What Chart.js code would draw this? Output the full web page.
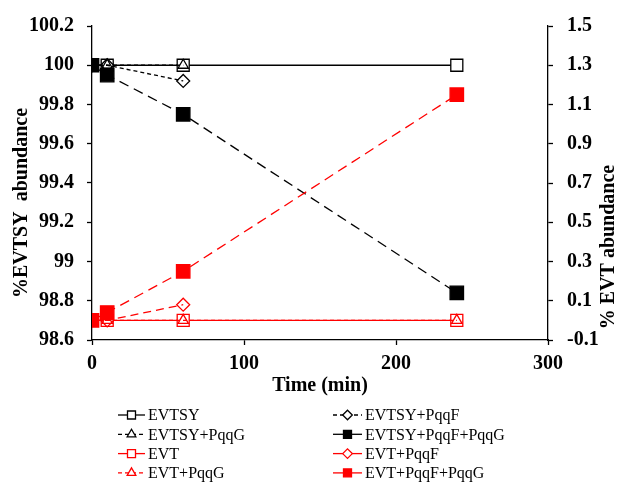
<!DOCTYPE html>
<html><head><meta charset="utf-8">
<script src="https://cdn.jsdelivr.net/npm/chart.js@4.4.1/dist/chart.umd.min.js"></script>
<style>html,body{margin:0;padding:0;background:#fff;}#wrap{width:625px;height:484px;position:relative;}</style>
</head><body><div id="wrap"><canvas id="c" width="625" height="484" style="width:625px;height:484px;"></canvas></div>
<script>
// ---- data ----
const timeMin = [0, 10, 60, 240];
const evtsy = [100, 100, 100, 100];
const evtsyPqqF = [100, 100, 99.92, null];
const evtsyPqqG = [100, 100, 100, null];
const evtsyPqqFPqqG = [100, 99.95, 99.75, 98.84];
const evt = [0, 0, 0, 0];
const evtPqqF = [0, 0, 0.08, null];
const evtPqqG = [0, 0, 0, 0];
const evtPqqFPqqG = [0, 0.04, 0.25, 1.15];
const leftTicks = [98.6, 98.8, 99, 99.2, 99.4, 99.6, 99.8, 100, 100.2];
const rightTicks = [-0.1, 0.1, 0.3, 0.5, 0.7, 0.9, 1.1, 1.3, 1.5];
const xTicks = [0, 100, 200, 300];
const legendOrder = ['EVTSY', 'EVTSY+PqqF', 'EVTSY+PqqG', 'EVTSY+PqqF+PqqG', 'EVT', 'EVT+PqqF', 'EVT+PqqG', 'EVT+PqqF+PqqG'];

const pts = arr => timeMin.map((t, i) => ({x: t, y: arr[i]}));
const RED = '#ff0000', BLK = '#000000';
const SERIF = '"Liberation Serif", "Times New Roman", serif';

function ds(label, arr, axis, color, marker, filled, dash, order, legendDash) {
  const r = marker === 'rect' ? (filled ? 9.5 : 8.5) : (marker === 'rectRot' ? 6.5 : 6);
  return {
    label, data: pts(arr), yAxisID: axis,
    borderColor: color, borderWidth: 1.3, borderDash: dash,
    pointStyle: marker, pointRadius: r, pointHoverRadius: r,
    pointBorderColor: color, pointBorderWidth: 1.3,
    pointBackgroundColor: filled ? color : (marker === 'rect' ? '#ffffff' : 'rgba(0,0,0,0)'),
    fill: false, tension: 0, order, legendDash,
    _marker: marker, _filled: filled
  };
}

const datasets = [
  ds('EVTSY', evtsy, 'y', BLK, 'rect', false, [], 8, []),
  ds('EVT', evt, 'y2', RED, 'rect', false, [], 7, []),
  ds('EVTSY+PqqG', evtsyPqqG, 'y', BLK, 'triangle', false, [4, 3], 6, [4, 3]),
  ds('EVT+PqqG', evtPqqG, 'y2', RED, 'triangle', false, [4, 3], 5, [4, 3]),
  ds('EVTSY+PqqF', evtsyPqqF, 'y', BLK, 'rectRot', false, [4, 3], 4, [4, 3]),
  ds('EVT+PqqF', evtPqqF, 'y2', RED, 'rectRot', false, [8, 5], 3, []),
  ds('EVTSY+PqqF+PqqG', evtsyPqqFPqqG, 'y', BLK, 'rect', true, [10, 6], 2, []),
  ds('EVT+PqqF+PqqG', evtPqqFPqqG, 'y2', RED, 'rect', true, [10, 6], 1, [])
];

function drawMarker(ctx, kind, filled, color, x, y, s) {
  ctx.beginPath();
  if (kind === 'rect') {
    ctx.rect(x - s, y - s, 2 * s, 2 * s);
  } else if (kind === 'rectRot') {
    const d = s * 1.2;
    ctx.moveTo(x - d, y); ctx.lineTo(x, y - d); ctx.lineTo(x + d, y); ctx.lineTo(x, y + d); ctx.closePath();
  } else {
    const d = s * 1.25;
    ctx.moveTo(x, y - d); ctx.lineTo(x + d * 0.866, y + d * 0.5); ctx.lineTo(x - d * 0.866, y + d * 0.5); ctx.closePath();
  }
  ctx.fillStyle = filled ? color : '#ffffff';
  ctx.fill();
  ctx.strokeStyle = color; ctx.lineWidth = 1.3; ctx.setLineDash([]);
  ctx.stroke();
}

const decor = {
  id: 'decor',
  afterDraw(chart) {
    const ctx = chart.ctx, ca = chart.chartArea;
    ctx.save();
    ctx.fillStyle = '#000';
    ctx.font = 'bold 20px ' + SERIF;
    ctx.textAlign = 'center';
    ctx.textBaseline = 'middle';
    ctx.fillText('Time (min)', (ca.left + ca.right) / 2, 386);
    ctx.save(); ctx.translate(22, 203); ctx.rotate(-Math.PI / 2);
    ctx.fillText('%EVTSY  abundance', 0, 0); ctx.restore();
    ctx.save(); ctx.translate(609, 247); ctx.rotate(-Math.PI / 2);
    ctx.fillText('% EVT abundance', 0, 0); ctx.restore();

    // legend
    ctx.font = '16px ' + SERIF;
    ctx.textAlign = 'left';
    const cols = [{x0: 118, tx: 148}, {x0: 333, tx: 365}];
    legendOrder.forEach((name, i) => {
      const d = chart.data.datasets.find(q => q.label === name);
      const col = cols[i % 2];
      const y = 415 + Math.floor(i / 2) * 19.3;
      const len = col.tx - col.x0 - 3;
      ctx.strokeStyle = d.borderColor; ctx.lineWidth = 1.3;
      ctx.setLineDash(d.legendDash);
      ctx.beginPath(); ctx.moveTo(col.x0, y); ctx.lineTo(col.x0 + len, y); ctx.stroke();
      drawMarker(ctx, d._marker, d._filled, d.borderColor, col.x0 + len / 2, y, 4);
      ctx.fillStyle = '#000';
      ctx.fillText(name, col.tx, y + 1);
    });
    ctx.restore();
  }
};

const tickFont = {family: SERIF, size: 20, weight: 'bold'};
const axisCommon = {
  border: {display: true, color: '#000', width: 1.3},
  grid: {display: true, drawOnChartArea: false, drawTicks: true, tickLength: 5, tickColor: '#000', tickWidth: 1.3, color: '#000'}
};

new Chart(document.getElementById('c'), {
  type: 'line',
  data: {datasets},
  options: {
    responsive: false, animation: false, devicePixelRatio: 1,
    layout: {padding: {top: 21, left: 0, right: 0, bottom: 0}},
    plugins: {legend: {display: false}, tooltip: {enabled: false}},
    events: [],
    scales: {
      x: Object.assign({}, axisCommon, {
        type: 'linear', position: 'bottom', min: 0, max: 300,
        afterBuildTicks: s => { s.ticks = xTicks.map(v => ({value: v})); },
        afterFit: s => { s.height = 144; },
        ticks: {font: tickFont, color: '#000', padding: 7, maxRotation: 0, callback: v => String(v)}
      }),
      y: Object.assign({}, axisCommon, {
        type: 'linear', position: 'left', min: 98.6, max: 100.2,
        afterBuildTicks: s => { s.ticks = leftTicks.map(v => ({value: v})); },
        afterFit: s => { s.width = 92; },
        ticks: {font: tickFont, color: '#000', padding: 13, callback: v => String(v)}
      }),
      y2: Object.assign({}, axisCommon, {
        type: 'linear', position: 'right', min: -0.1, max: 1.5,
        afterBuildTicks: s => { s.ticks = rightTicks.map(v => ({value: v})); },
        afterFit: s => { s.width = 77; },
        ticks: {font: tickFont, color: '#000', padding: 14, callback: v => String(v)}
      })
    }
  },
  plugins: [decor]
});
</script>
</body></html>
